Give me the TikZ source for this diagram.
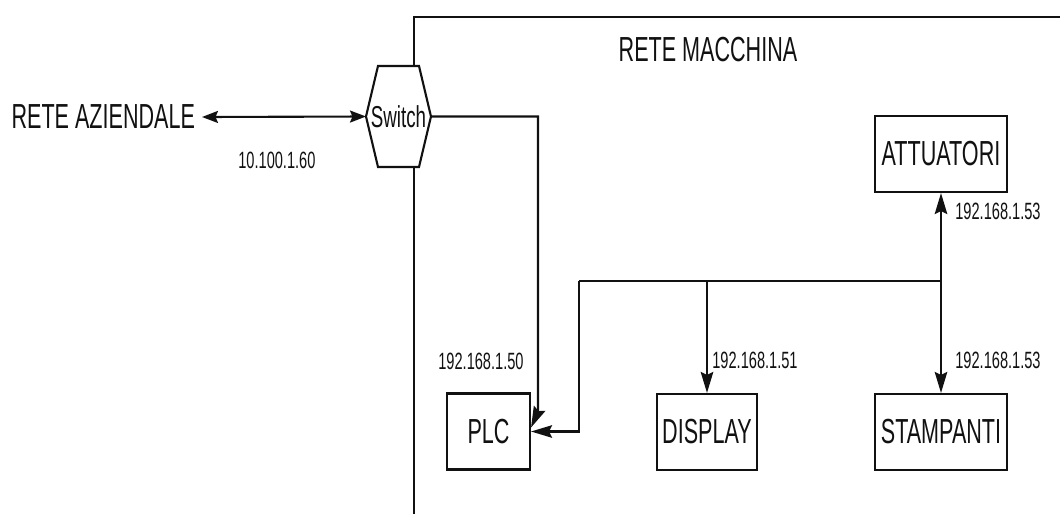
\documentclass[tikz,border=0pt]{standalone}
\usepackage{fontspec}
\setmainfont{Liberation Sans}[FakeStretch=0.62]
\usetikzlibrary{arrows.meta,calc}
\definecolor{ink}{HTML}{111111}
\tikzset{
  % ---- devices ---------------------------------------------------
  dev/.style      = {draw=ink, line width=1.2pt, fill=white, inner sep=0pt,
                     minimum height=15.2mm, text=ink,
                     font=\fontsize{19.8}{22}\selectfont},
  hubline/.style  = {draw=ink, line width=1.2pt, fill=white, line join=miter},
  hubtext/.style  = {inner sep=0pt, text=ink, font=\fontsize{17.2}{19}\selectfont},
  % ---- wires -----------------------------------------------------
  wire/.style     = {draw=ink, line width=1.2pt},
  feed/.style     = {wire, -{Stealth[length=4.2mm,width=2.5mm,inset=0.6mm]}},
  feedboth/.style = {wire, {Stealth[length=3.2mm,width=2.4mm,inset=0.5mm]}-{Stealth[length=3.2mm,width=2.4mm,inset=0.5mm]}},
  % ---- texts -----------------------------------------------------
  title/.style    = {font=\fontsize{19.8}{22}\selectfont, text=ink, inner sep=0pt},
  ip/.style       = {font=\fontsize{13.4}{15}\selectfont, text=ink, inner sep=0pt,
                     anchor=west},
}
\begin{document}
\begin{tikzpicture}[x=0.2mm,y=-0.2mm]
  \useasboundingbox (0,0) rectangle (1060,514);
  % machine network frame
  \draw[wire] (414,514) -- (414,17) -- (1060,17);
  \node[title] (macc) at (708,50) {RETE MACCHINA};
  % switch (hexagon)
  \coordinate (swW) at (366,116.5);
  \coordinate (swE) at (431,116.5);
  \draw[hubline] (swW) -- ++(12,-50.5) -- ++(41,0) -- (swE)
    -- ++(-12,50.5) -- ++(-41,0) -- cycle;
  \node[hubtext] (sw) at ($(swW)!0.5!(swE)$) {Switch};
  \node[title, anchor=east, outer xsep=4pt] (azi) at (202,117) {RETE AZIENDALE};
  \node[dev, minimum width=16.6mm] (plc) at (488.5,431.5) {PLC};
  \node[dev, minimum width=20mm] (disp) at (707,432) {DISPLAY};
  \node[dev, minimum width=26.4mm] (stamp) at (941,432) {STAMPANTI};
  \node[dev, minimum width=26.4mm] (attu) at (941,154) {ATTUATORI};
  % bus
  \coordinate (busL) at (579,281);
  \coordinate (busR) at (attu.south |- busL);
  \coordinate (busD) at (disp.north |- busL);
  \coordinate (swdrop) at (538,412);
  \draw[feedboth] (azi.east) -- (swW);
  \draw[feed] (swE) -| (swdrop) -- ([yshift=0.8mm]plc.east);
  \draw[wire] (busL) -- (busR);
  \draw[feed] (busL) |- (plc.east);
  \draw[feed] (busD) -- (disp.north);
  \draw[feed] (busR) -- (attu.south);
  \draw[feed] (busR) -- (stamp.north);
  % addresses
  \node[ip] (ip0) at (238,160) {10.100.1.60};
  \node[ip] (ip1) at (438,361) {192.168.1.50};
  \node[ip] (ip2) at (712,360) {192.168.1.51};
  \node[ip] (ip3) at (955,360) {192.168.1.53};
  \node[ip] (ip4) at (955,211) {192.168.1.53};
\end{tikzpicture}
\end{document}
